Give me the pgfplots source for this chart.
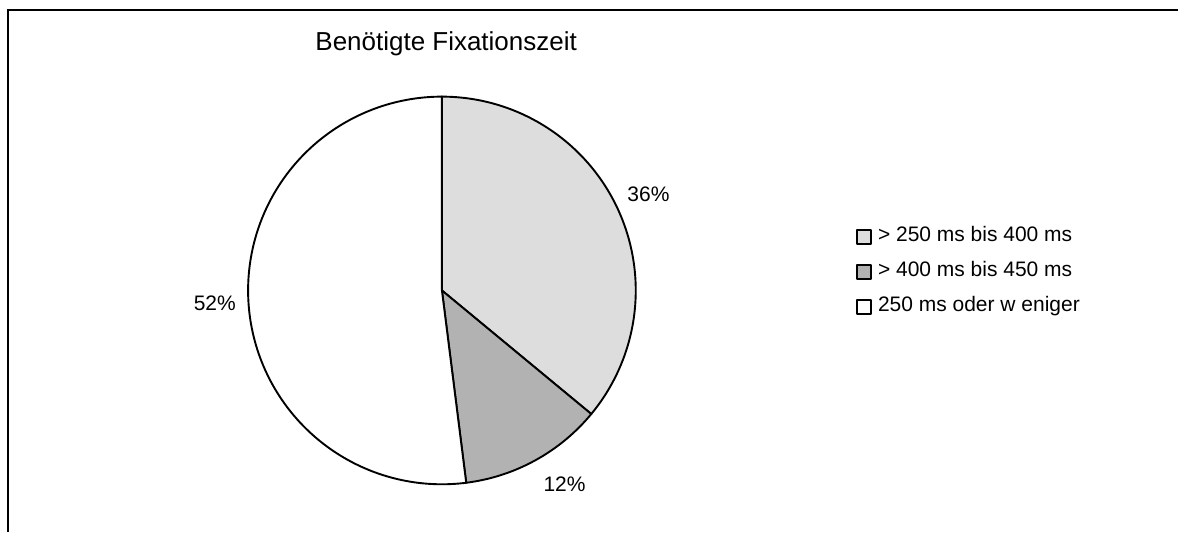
\documentclass[border=0pt]{standalone}
\usepackage{fontspec}
\setmainfont{Liberation Sans}
\usepackage{pgfplots}
\pgfplotsset{compat=1.18}
\definecolor{sliceA}{HTML}{DDDDDD}
\definecolor{sliceB}{HTML}{B2B2B2}
\definecolor{sliceC}{HTML}{FFFFFF}
% Pie data (percent): 36, 12, 52 ; centre and radius in picture units
\newcommand{\cx}{442.3}
\newcommand{\cy}{290.7}
\newcommand{\rr}{194}
\begin{document}
\begin{tikzpicture}
\begin{axis}[
  width=1179pt, height=532pt, scale only axis,
  xmin=0, xmax=1179, ymin=0, ymax=532, y dir=reverse,
  hide axis, clip=false,
  legend image code/.code={\draw[#1,draw=black,line width=1.2pt] (0pt,-7pt) rectangle (14pt,7pt); \path (19pt,0pt);},
  legend style={at={(axis cs:857,226)}, anchor=north west, draw=none, fill=none,
    font=\fontsize{21}{25}\selectfont, row sep=13pt, inner sep=0pt,
    nodes={inner sep=1pt, text height=15pt, text depth=5pt}},
  legend cell align=left,
]
% 36 %  -> 0 .. 129.6 deg
\addplot[draw=black, fill=sliceA, line width=1.9pt, line join=round, domain=0:129.6, samples=120, variable=\t]
  ({\cx+\rr*sin(t)}, {\cy-\rr*cos(t)}) -- (axis cs:\cx,\cy) -- cycle;
\addlegendentry{> 250 ms bis 400 ms}
% 12 %  -> 129.6 .. 172.8 deg
\addplot[draw=black, fill=sliceB, line width=1.9pt, line join=round, domain=129.6:172.8, samples=50, variable=\t]
  ({\cx+\rr*sin(t)}, {\cy-\rr*cos(t)}) -- (axis cs:\cx,\cy) -- cycle;
\addlegendentry{> 400 ms bis 450 ms}
% 52 %  -> 172.8 .. 360 deg
\addplot[draw=black, fill=sliceC, line width=1.9pt, line join=round, domain=172.8:360, samples=160, variable=\t]
  ({\cx+\rr*sin(t)}, {\cy-\rr*cos(t)}) -- (axis cs:\cx,\cy) -- cycle;
\addlegendentry{250 ms oder w eniger}
% labels
\node[font=\fontsize{21}{25}\selectfont] at (axis cs:649,194.5) {36\%};
\node[font=\fontsize{21}{25}\selectfont] at (axis cs:565,485) {12\%};
\node[font=\fontsize{21}{25}\selectfont] at (axis cs:215,304) {52\%};
% title
\node[font=\fontsize{26}{31}\selectfont] at (axis cs:446.5,43.5) {Benötigte Fixationszeit};
% frame (only top and left edges fall inside the picture)
\draw[line width=2pt] (axis cs:8,532) -- (axis cs:8,10.5) -- (axis cs:1179,10.5);
\path (axis cs:0,0) (axis cs:1179,532);
\end{axis}
\end{tikzpicture}
\end{document}
